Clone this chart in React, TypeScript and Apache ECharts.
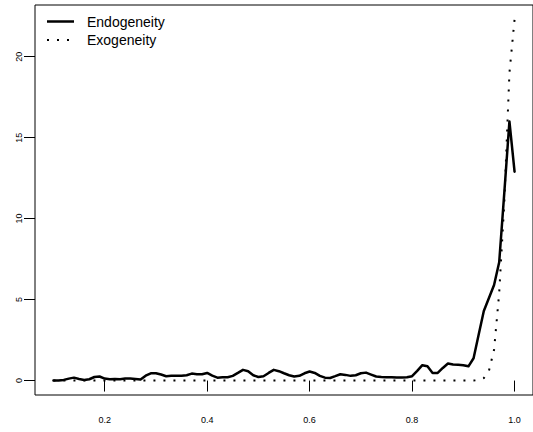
import React, { useEffect, useRef } from "react";
import * as echarts from "echarts";

const xValues = [
  0.1, 0.11, 0.12, 0.13, 0.14, 0.15, 0.16, 0.17, 0.18, 0.19,
  0.2, 0.21, 0.22, 0.23, 0.24, 0.25, 0.26, 0.27, 0.28, 0.29,
  0.3, 0.31, 0.32, 0.33, 0.34, 0.35, 0.36, 0.37, 0.38, 0.39,
  0.4, 0.41, 0.42, 0.43, 0.44, 0.45, 0.46, 0.47, 0.48, 0.49,
  0.5, 0.51, 0.52, 0.53, 0.54, 0.55, 0.56, 0.57, 0.58, 0.59,
  0.6, 0.61, 0.62, 0.63, 0.64, 0.65, 0.66, 0.67, 0.68, 0.69,
  0.7, 0.71, 0.72, 0.73, 0.74, 0.75, 0.76, 0.77, 0.78, 0.79,
  0.8, 0.81, 0.82, 0.83, 0.84, 0.85, 0.86, 0.87, 0.88, 0.89,
  0.9, 0.91, 0.92, 0.93, 0.94, 0.95, 0.96, 0.97, 0.98, 0.99,
  1.0,
];

const endogeneity = [
  0, 0, 0.04, 0.12, 0.18, 0.1, 0.04, 0.08, 0.22, 0.25,
  0.12, 0.08, 0.1, 0.08, 0.12, 0.12, 0.1, 0.06, 0.3, 0.45,
  0.45, 0.37, 0.27, 0.29, 0.3, 0.29, 0.33, 0.43, 0.39, 0.39,
  0.47, 0.3, 0.18, 0.2, 0.2, 0.29, 0.47, 0.66, 0.58, 0.33,
  0.22, 0.27, 0.47, 0.66, 0.58, 0.45, 0.33, 0.25, 0.29, 0.45,
  0.56, 0.47, 0.29, 0.18, 0.16, 0.27, 0.39, 0.35, 0.29, 0.33,
  0.45, 0.49, 0.37, 0.25, 0.22, 0.2, 0.2, 0.19, 0.19, 0.2,
  0.27, 0.6, 0.95, 0.88, 0.47, 0.47, 0.78, 1.05, 0.99, 0.97,
  0.95, 0.88, 1.38, 2.85, 4.3, 5.1, 5.9, 7.3, 11.6, 16.0,
  12.9,
];

const exogeneity = [
  0, 0, 0, 0, 0, 0, 0, 0, 0, 0,
  0, 0, 0, 0, 0, 0, 0, 0, 0, 0,
  0, 0, 0, 0, 0, 0, 0, 0, 0, 0,
  0, 0, 0, 0, 0, 0, 0, 0, 0, 0,
  0, 0, 0, 0, 0, 0, 0, 0, 0, 0,
  0, 0, 0, 0, 0, 0, 0, 0, 0, 0,
  0, 0, 0, 0, 0, 0, 0, 0, 0, 0,
  0, 0, 0, 0, 0, 0, 0, 0, 0, 0,
  0, 0, 0, 0.03, 0.15, 0.6, 1.9, 5.4, 11.0, 19.0,
  22.3,
];

const xTicks = [0.2, 0.4, 0.6, 0.8, 1.0];
const yTicks = [0, 5, 10, 15, 20];
const seriesNames = ["Endogeneity", "Exogeneity"];

const FONT = "'Liberation Sans', Arial, Helvetica, sans-serif";

export default function App() {
  const ref = useRef<HTMLDivElement>(null);

  useEffect(() => {
    if (!ref.current) return;
    const chart = echarts.init(ref.current, null, { renderer: "svg" });

    const endoData = xValues.map((x, i) => [x, endogeneity[i]]);
    const exoData = xValues.map((x, i) => [x, exogeneity[i]]);

    const xMin = 0.064;
    const xMax = 1.036;
    const yMax = 22.3;
    const yMinExt = -yMax * 0.04;
    const yMaxExt = yMax * 1.04;

    chart.setOption({
      animation: false,
      backgroundColor: "#ffffff",
      grid: {
        left: 35,
        top: 5,
        width: 510,
        height: 390,
        show: true,
        borderColor: "#000000",
        borderWidth: 1,
        backgroundColor: "transparent",
      },
      xAxis: {
        type: "value",
        min: xMin,
        max: xMax,
        axisLine: { show: false },
        splitLine: { show: false },
        axisTick: {
          show: true,
          length: 11,
          customValues: xTicks,
          lineStyle: { color: "#000000", width: 1 },
        },
        axisLabel: {
          show: true,
          customValues: xTicks,
          fontSize: 9,
          fontFamily: FONT,
          color: "#000000",
          margin: 20,
          formatter: (v: number) => v.toFixed(1),
        },
      },
      yAxis: {
        type: "value",
        min: yMinExt,
        max: yMaxExt,
        axisLine: { show: false },
        splitLine: { show: false },
        axisTick: {
          show: true,
          length: 11,
          customValues: yTicks,
          lineStyle: { color: "#000000", width: 1 },
        },
        axisLabel: {
          show: true,
          customValues: yTicks,
          rotate: 90,
          fontSize: 9,
          fontFamily: FONT,
          color: "#000000",
          margin: 12,
          formatter: (v: number) => String(Math.round(v)),
        },
      },
      series: [
        {
          name: seriesNames[0],
          type: "line",
          data: endoData,
          showSymbol: false,
          symbol: "none",
          lineStyle: { color: "#000000", width: 2.5, join: "round", cap: "round" },
          z: 3,
        },
        {
          name: seriesNames[1],
          type: "line",
          data: exoData,
          showSymbol: false,
          symbol: "none",
          lineStyle: { color: "#000000", width: 2, type: [2, 8], cap: "butt" },
          z: 2,
        },
      ],
      graphic: [
        {
          type: "line",
          shape: { x1: 47, y1: 21.5, x2: 74, y2: 21.5 },
          style: { stroke: "#000000", lineWidth: 2.5 },
        },
        {
          type: "text",
          x: 87,
          y: 22,
          style: {
            text: seriesNames[0],
            fill: "#000000",
            font: `14px ${FONT}`,
            textVerticalAlign: "middle",
            verticalAlign: "middle",
          },
        },
        {
          type: "line",
          shape: { x1: 47, y1: 40, x2: 74, y2: 40 },
          style: { stroke: "#000000", lineWidth: 2, lineDash: [2, 8] },
        },
        {
          type: "text",
          x: 87,
          y: 39.5,
          style: {
            text: seriesNames[1],
            fill: "#000000",
            font: `14px ${FONT}`,
            textVerticalAlign: "middle",
            verticalAlign: "middle",
          },
        },
      ],
    });

    return () => {
      chart.dispose();
    };
  }, []);

  return (
    <div
      ref={ref}
      style={{ position: "fixed", left: 0, top: 0, width: 533, height: 432 }}
    />
  );
}
